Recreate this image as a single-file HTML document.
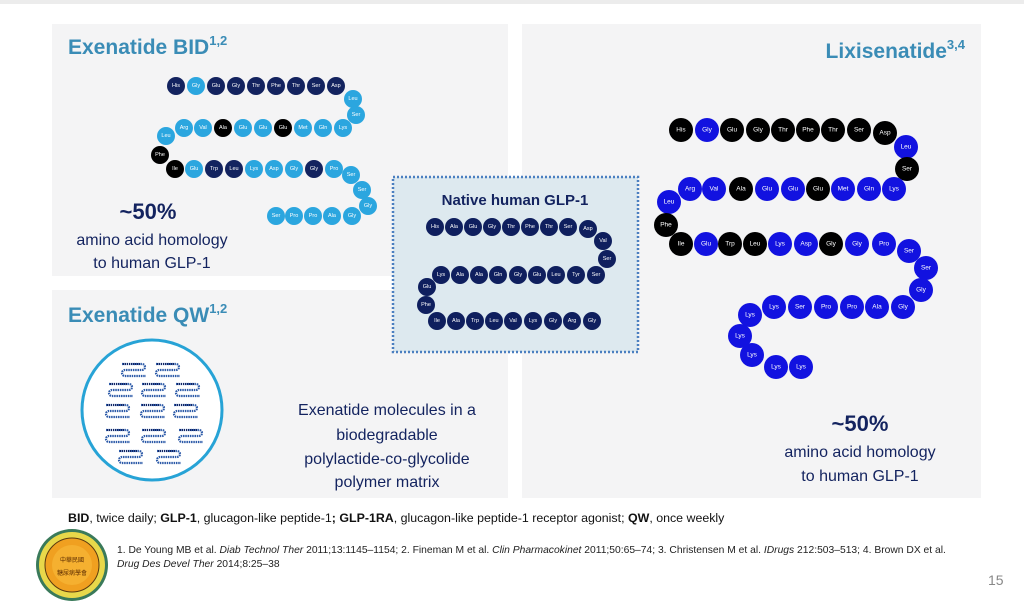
<!DOCTYPE html>
<html><head><meta charset="utf-8"><style>
body{margin:0;background:#fff;}
svg{display:block;font-family:"Liberation Sans",sans-serif;}
.s text{font-size:5.5px;fill:#fff;text-anchor:middle;dominant-baseline:central;}
.l text{font-size:6.5px;fill:#fff;text-anchor:middle;dominant-baseline:central;}
.d{fill:#13235f}.b{fill:#2ba6df}.k{fill:#000}.u{fill:#1212e0}
.n{fill:#0f1f5e}
</style></head><body>
<svg width="1024" height="613" viewBox="0 0 1024 613" xmlns="http://www.w3.org/2000/svg">
<rect x="0" y="0" width="1024" height="4" fill="#ececec"/>
<rect x="52" y="24" width="456" height="252" fill="#f4f4f5"/>
<rect x="52" y="290" width="456" height="208" fill="#f4f4f5"/>
<rect x="522" y="24" width="459" height="474" fill="#f4f4f5"/>
<rect x="393" y="177" width="245" height="175" fill="#dde9ef" stroke="#4a7fc0" stroke-width="2.5" stroke-dasharray="2 2"/>

<text x="68" y="54" font-size="21" font-weight="bold" fill="#3a8cb6">Exenatide BID<tspan font-size="13" dy="-9">1,2</tspan></text>
<text x="68" y="322" font-size="21" font-weight="bold" fill="#3a8cb6">Exenatide QW<tspan font-size="13" dy="-9">1,2</tspan></text>
<text x="965" y="58" font-size="21" font-weight="bold" fill="#3a8cb6" text-anchor="end">Lixisenatide<tspan font-size="13" dy="-9">3,4</tspan></text>

<text x="148" y="219" font-size="22" font-weight="bold" fill="#13235f" text-anchor="middle">~50%</text>
<text x="152" y="245" font-size="16" fill="#13235f" text-anchor="middle">amino acid homology</text>
<text x="152" y="268" font-size="16" fill="#13235f" text-anchor="middle">to human GLP-1</text>
<text x="860" y="431" font-size="22" font-weight="bold" fill="#13235f" text-anchor="middle">~50%</text>
<text x="860" y="457" font-size="16" fill="#13235f" text-anchor="middle">amino acid homology</text>
<text x="860" y="481" font-size="16" fill="#13235f" text-anchor="middle">to human GLP-1</text>
<g font-size="16" fill="#13235f" text-anchor="middle">
<text x="387" y="415">Exenatide molecules in a</text>
<text x="387" y="440">biodegradable</text>
<text x="387" y="464">polylactide-co-glycolide</text>
<text x="387" y="487">polymer matrix</text>
</g>
<text x="515" y="205" font-size="15" font-weight="bold" fill="#13235f" text-anchor="middle">Native human GLP-1</text>

<!-- Exenatide BID chain -->
<g class="s">
<circle cx="176" cy="86" r="9" class="d"/><text x="176" y="86">His</text>
<circle cx="196" cy="86" r="9" class="b"/><text x="196" y="86">Gly</text>
<circle cx="216" cy="86" r="9" class="d"/><text x="216" y="86">Glu</text>
<circle cx="236" cy="86" r="9" class="d"/><text x="236" y="86">Gly</text>
<circle cx="256" cy="86" r="9" class="d"/><text x="256" y="86">Thr</text>
<circle cx="276" cy="86" r="9" class="d"/><text x="276" y="86">Phe</text>
<circle cx="296" cy="86" r="9" class="d"/><text x="296" y="86">Thr</text>
<circle cx="316" cy="86" r="9" class="d"/><text x="316" y="86">Ser</text>
<circle cx="336" cy="86" r="9" class="d"/><text x="336" y="86">Asp</text>
<circle cx="353" cy="99" r="9" class="b"/><text x="353" y="99">Leu</text>
<circle cx="356" cy="115" r="9" class="b"/><text x="356" y="115">Ser</text>
<circle cx="343" cy="128" r="9" class="b"/><text x="343" y="128">Lys</text>
<circle cx="323" cy="128" r="9" class="b"/><text x="323" y="128">Gln</text>
<circle cx="303" cy="128" r="9" class="b"/><text x="303" y="128">Met</text>
<circle cx="283" cy="128" r="9" class="k"/><text x="283" y="128">Glu</text>
<circle cx="263" cy="128" r="9" class="b"/><text x="263" y="128">Glu</text>
<circle cx="243" cy="128" r="9" class="b"/><text x="243" y="128">Glu</text>
<circle cx="223" cy="128" r="9" class="k"/><text x="223" y="128">Ala</text>
<circle cx="203" cy="128" r="9" class="b"/><text x="203" y="128">Val</text>
<circle cx="184" cy="128" r="9" class="b"/><text x="184" y="128">Arg</text>
<circle cx="166" cy="136" r="9" class="b"/><text x="166" y="136">Leu</text>
<circle cx="160" cy="155" r="9" class="k"/><text x="160" y="155">Phe</text>
<circle cx="175" cy="169" r="9" class="k"/><text x="175" y="169">Ile</text>
<circle cx="194" cy="169" r="9" class="b"/><text x="194" y="169">Glu</text>
<circle cx="214" cy="169" r="9" class="d"/><text x="214" y="169">Trp</text>
<circle cx="234" cy="169" r="9" class="d"/><text x="234" y="169">Leu</text>
<circle cx="254" cy="169" r="9" class="b"/><text x="254" y="169">Lys</text>
<circle cx="274" cy="169" r="9" class="b"/><text x="274" y="169">Asp</text>
<circle cx="294" cy="169" r="9" class="b"/><text x="294" y="169">Gly</text>
<circle cx="314" cy="169" r="9" class="d"/><text x="314" y="169">Gly</text>
<circle cx="334" cy="169" r="9" class="b"/><text x="334" y="169">Pro</text>
<circle cx="351" cy="175" r="9" class="b"/><text x="351" y="175">Ser</text>
<circle cx="362" cy="190" r="9" class="b"/><text x="362" y="190">Ser</text>
<circle cx="368" cy="206" r="9" class="b"/><text x="368" y="206">Gly</text>
<circle cx="352" cy="216" r="9" class="b"/><text x="352" y="216">Gly</text>
<circle cx="332" cy="216" r="9" class="b"/><text x="332" y="216">Ala</text>
<circle cx="313" cy="216" r="9" class="b"/><text x="313" y="216">Pro</text>
<circle cx="294" cy="216" r="9" class="b"/><text x="294" y="216">Pro</text>
<circle cx="276" cy="216" r="9" class="b"/><text x="276" y="216">Ser</text>
</g>

<!-- Native GLP-1 -->
<g class="s">
<circle cx="435" cy="227" r="9" class="n"/><text x="435" y="227">His</text>
<circle cx="454" cy="227" r="9" class="n"/><text x="454" y="227">Ala</text>
<circle cx="473" cy="227" r="9" class="n"/><text x="473" y="227">Glu</text>
<circle cx="492" cy="227" r="9" class="n"/><text x="492" y="227">Gly</text>
<circle cx="511" cy="227" r="9" class="n"/><text x="511" y="227">Thr</text>
<circle cx="530" cy="227" r="9" class="n"/><text x="530" y="227">Phe</text>
<circle cx="549" cy="227" r="9" class="n"/><text x="549" y="227">Thr</text>
<circle cx="568" cy="227" r="9" class="n"/><text x="568" y="227">Ser</text>
<circle cx="588" cy="229" r="9" class="n"/><text x="588" y="229">Asp</text>
<circle cx="603" cy="241" r="9" class="n"/><text x="603" y="241">Val</text>
<circle cx="607" cy="259" r="9" class="n"/><text x="607" y="259">Ser</text>
<circle cx="596" cy="275" r="9" class="n"/><text x="596" y="275">Ser</text>
<circle cx="576" cy="275" r="9" class="n"/><text x="576" y="275">Tyr</text>
<circle cx="556" cy="275" r="9" class="n"/><text x="556" y="275">Leu</text>
<circle cx="537" cy="275" r="9" class="n"/><text x="537" y="275">Glu</text>
<circle cx="518" cy="275" r="9" class="n"/><text x="518" y="275">Gly</text>
<circle cx="498" cy="275" r="9" class="n"/><text x="498" y="275">Gln</text>
<circle cx="479" cy="275" r="9" class="n"/><text x="479" y="275">Ala</text>
<circle cx="460" cy="275" r="9" class="n"/><text x="460" y="275">Ala</text>
<circle cx="441" cy="275" r="9" class="n"/><text x="441" y="275">Lys</text>
<circle cx="427" cy="287" r="9" class="n"/><text x="427" y="287">Glu</text>
<circle cx="426" cy="305" r="9" class="n"/><text x="426" y="305">Phe</text>
<circle cx="437" cy="321" r="9" class="n"/><text x="437" y="321">Ile</text>
<circle cx="456" cy="321" r="9" class="n"/><text x="456" y="321">Ala</text>
<circle cx="475" cy="321" r="9" class="n"/><text x="475" y="321">Trp</text>
<circle cx="494" cy="321" r="9" class="n"/><text x="494" y="321">Leu</text>
<circle cx="513" cy="321" r="9" class="n"/><text x="513" y="321">Val</text>
<circle cx="533" cy="321" r="9" class="n"/><text x="533" y="321">Lys</text>
<circle cx="553" cy="321" r="9" class="n"/><text x="553" y="321">Gly</text>
<circle cx="572" cy="321" r="9" class="n"/><text x="572" y="321">Arg</text>
<circle cx="592" cy="321" r="9" class="n"/><text x="592" y="321">Gly</text>
</g>

<!-- Lixisenatide -->
<g class="l">
<circle cx="681" cy="130" r="12" class="k"/><text x="681" y="130">His</text>
<circle cx="707" cy="130" r="12" class="u"/><text x="707" y="130">Gly</text>
<circle cx="732" cy="130" r="12" class="k"/><text x="732" y="130">Glu</text>
<circle cx="758" cy="130" r="12" class="k"/><text x="758" y="130">Gly</text>
<circle cx="783" cy="130" r="12" class="k"/><text x="783" y="130">Thr</text>
<circle cx="808" cy="130" r="12" class="k"/><text x="808" y="130">Phe</text>
<circle cx="833" cy="130" r="12" class="k"/><text x="833" y="130">Thr</text>
<circle cx="859" cy="130" r="12" class="k"/><text x="859" y="130">Ser</text>
<circle cx="885" cy="133" r="12" class="k"/><text x="885" y="133">Asp</text>
<circle cx="906" cy="147" r="12" class="u"/><text x="906" y="147">Leu</text>
<circle cx="907" cy="169" r="12" class="k"/><text x="907" y="169">Ser</text>
<circle cx="894" cy="189" r="12" class="u"/><text x="894" y="189">Lys</text>
<circle cx="869" cy="189" r="12" class="u"/><text x="869" y="189">Gln</text>
<circle cx="843" cy="189" r="12" class="u"/><text x="843" y="189">Met</text>
<circle cx="818" cy="189" r="12" class="k"/><text x="818" y="189">Glu</text>
<circle cx="793" cy="189" r="12" class="u"/><text x="793" y="189">Glu</text>
<circle cx="767" cy="189" r="12" class="u"/><text x="767" y="189">Glu</text>
<circle cx="741" cy="189" r="12" class="k"/><text x="741" y="189">Ala</text>
<circle cx="714" cy="189" r="12" class="u"/><text x="714" y="189">Val</text>
<circle cx="690" cy="189" r="12" class="u"/><text x="690" y="189">Arg</text>
<circle cx="669" cy="202" r="12" class="u"/><text x="669" y="202">Leu</text>
<circle cx="666" cy="225" r="12" class="k"/><text x="666" y="225">Phe</text>
<circle cx="681" cy="244" r="12" class="k"/><text x="681" y="244">Ile</text>
<circle cx="706" cy="244" r="12" class="u"/><text x="706" y="244">Glu</text>
<circle cx="730" cy="244" r="12" class="k"/><text x="730" y="244">Trp</text>
<circle cx="755" cy="244" r="12" class="k"/><text x="755" y="244">Leu</text>
<circle cx="780" cy="244" r="12" class="u"/><text x="780" y="244">Lys</text>
<circle cx="806" cy="244" r="12" class="u"/><text x="806" y="244">Asp</text>
<circle cx="831" cy="244" r="12" class="k"/><text x="831" y="244">Gly</text>
<circle cx="857" cy="244" r="12" class="u"/><text x="857" y="244">Gly</text>
<circle cx="884" cy="244" r="12" class="u"/><text x="884" y="244">Pro</text>
<circle cx="909" cy="251" r="12" class="u"/><text x="909" y="251">Ser</text>
<circle cx="926" cy="268" r="12" class="u"/><text x="926" y="268">Ser</text>
<circle cx="921" cy="290" r="12" class="u"/><text x="921" y="290">Gly</text>
<circle cx="903" cy="307" r="12" class="u"/><text x="903" y="307">Gly</text>
<circle cx="877" cy="307" r="12" class="u"/><text x="877" y="307">Ala</text>
<circle cx="852" cy="307" r="12" class="u"/><text x="852" y="307">Pro</text>
<circle cx="826" cy="307" r="12" class="u"/><text x="826" y="307">Pro</text>
<circle cx="800" cy="307" r="12" class="u"/><text x="800" y="307">Ser</text>
<circle cx="774" cy="307" r="12" class="u"/><text x="774" y="307">Lys</text>
<circle cx="750" cy="315" r="12" class="u"/><text x="750" y="315">Lys</text>
<circle cx="740" cy="336" r="12" class="u"/><text x="740" y="336">Lys</text>
<circle cx="752" cy="355" r="12" class="u"/><text x="752" y="355">Lys</text>
<circle cx="776" cy="367" r="12" class="u"/><text x="776" y="367">Lys</text>
<circle cx="801" cy="367" r="12" class="u"/><text x="801" y="367">Lys</text>
</g>

<!-- QW matrix -->
<circle cx="152" cy="410" r="70" fill="#fff" stroke="#27a3d6" stroke-width="3"/>
<defs>
<g id="m">
<path d="M0,0 H20 A3,3 0 0 1 20,6 H3 A3,3 0 0 0 3,12 H24" fill="none" stroke="#2c5aa8" stroke-width="2.2" stroke-dasharray="1.5 0.8"/>
<path d="M1,0 H18" stroke="#13235f" stroke-width="2" stroke-dasharray="1 1"/>
</g>
</defs>
<use href="#m" x="122" y="364"/><use href="#m" x="156" y="364"/>
<use href="#m" x="109" y="384"/><use href="#m" x="142" y="384"/><use href="#m" x="176" y="384"/>
<use href="#m" x="106" y="405"/><use href="#m" x="141" y="405"/><use href="#m" x="174" y="405"/>
<use href="#m" x="106" y="430"/><use href="#m" x="142" y="430"/><use href="#m" x="179" y="430"/>
<use href="#m" x="119" y="451"/><use href="#m" x="157" y="451"/>

<!-- footer -->
<text x="68" y="522" font-size="12.4" fill="#111"><tspan font-weight="bold">BID</tspan>, twice daily; <tspan font-weight="bold">GLP-1</tspan>, glucagon-like peptide-1<tspan font-weight="bold">; GLP-1RA</tspan>, glucagon-like peptide-1 receptor agonist; <tspan font-weight="bold">QW</tspan>, once weekly</text>
<text x="117" y="553" font-size="10.3" fill="#222">1. De Young MB et al. <tspan font-style="italic">Diab Technol Ther</tspan> 2011;13:1145–1154; 2. Fineman M et al. <tspan font-style="italic">Clin Pharmacokinet</tspan> 2011;50:65–74; 3. Christensen M et al. <tspan font-style="italic">IDrugs</tspan> 212:503–513; 4. Brown DX et al.</text>
<text x="117" y="567" font-size="10.3" fill="#222" font-style="italic">Drug Des Devel Ther <tspan font-style="normal">2014;8:25–38</tspan></text>
<text x="988" y="585" font-size="14" fill="#888">15</text>

<!-- logo -->
<circle cx="72" cy="565" r="36" fill="#3a7a5a"/>
<circle cx="72" cy="565" r="33" fill="#e8d84a"/>
<circle cx="72" cy="565" r="27" fill="#f0a020" stroke="#5a3a10" stroke-width="1"/>
<circle cx="72" cy="565" r="20" fill="#f5b030"/>
<text x="72" y="562" font-size="6" fill="#5a2a00" text-anchor="middle" font-family="'Noto Sans CJK TC',sans-serif">中華民國</text>
<text x="72" y="575" font-size="6" fill="#5a2a00" text-anchor="middle" font-family="'Noto Sans CJK TC',sans-serif">糖尿病學會</text>
</svg>
</body></html>
